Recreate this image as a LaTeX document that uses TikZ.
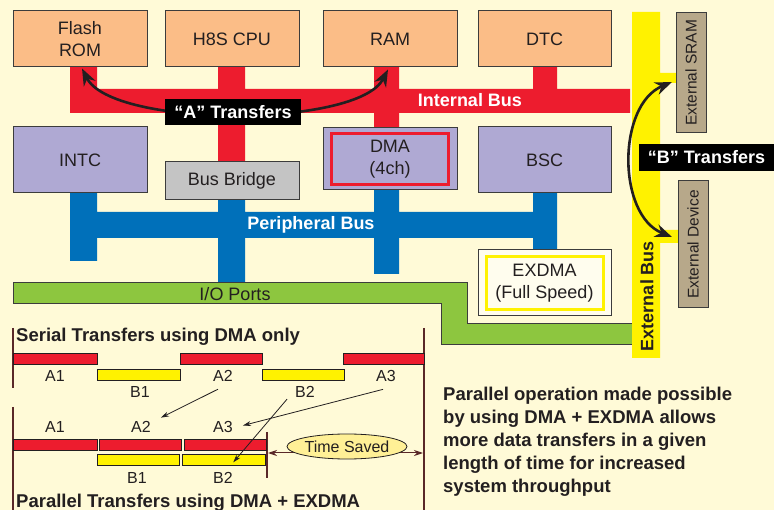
\documentclass[tikz,border=0pt]{standalone}
\usepackage{fontspec}
\setmainfont{Liberation Sans}
\usetikzlibrary{arrows.meta,shapes.geometric}
\definecolor{bgcream}{RGB}{255,250,215}
\definecolor{romorange}{RGB}{251,189,135}
\definecolor{busred}{RGB}{237,28,46}
\definecolor{periblue}{RGB}{0,112,186}
\definecolor{iogreen}{RGB}{141,198,63}
\definecolor{extyellow}{RGB}{255,242,0}
\definecolor{blocklilac}{RGB}{175,169,211}
\definecolor{bridgegray}{RGB}{196,196,196}
\definecolor{exttan}{RGB}{183,168,138}
\definecolor{inkdark}{RGB}{35,31,32}
\definecolor{edgegray}{RGB}{60,60,60}
\definecolor{lineburgundy}{RGB}{90,40,40}
\definecolor{savedyellow}{RGB}{255,240,150}
\definecolor{exdmafill}{RGB}{255,253,238}

\begin{document}
\begin{tikzpicture}[x=1pt,y=-1pt,
  font=\fontsize{18}{22}\selectfont,
  blk/.style={draw=edgegray, line width=1pt, align=center, text=inkdark, inner sep=0pt},
  tag/.style={fill=black, text=white, font=\fontsize{18}{22}\selectfont\bfseries, inner sep=0pt},
  busname/.style={text=white, font=\fontsize{18}{22}\selectfont\bfseries, inner sep=0pt},
  xdev/.style={blk, fill=exttan, rotate=90, minimum height=30pt, font=\fontsize{15.5}{18}\selectfont},
  abar/.style={draw=inkdark, line width=0.6pt, fill=busred, minimum height=11pt, inner sep=0pt, anchor=north west},
  bbar/.style={draw=inkdark, line width=0.6pt, fill=extyellow, minimum height=11pt, inner sep=0pt, anchor=north west},
  lbl/.style={text=inkdark, inner sep=1pt, anchor=base, font=\fontsize{16}{18}\selectfont},
  heading/.style={text=inkdark, inner sep=0pt, anchor=base west, font=\fontsize{18.5}{22}\selectfont\bfseries},
  bigarrow/.style={{Stealth[length=17pt,width=13pt]}-{Stealth[length=17pt,width=13pt]}, line width=2.6pt, inkdark},
  thinarrow/.style={-{Stealth[length=8pt,width=5pt]}, line width=0.8pt, inkdark},
  vline/.style={lineburgundy, line width=1.2pt},
]
\fill[bgcream] (0,0) rectangle (774,510);
\useasboundingbox (0,0) rectangle (774,510);

% buses
\fill[busred] (70,67) rectangle (97,113) (70,89) rectangle (630,113)
  (218,67) rectangle (245,162) (374,67) rectangle (399,128) (533,67) rectangle (557,89);
\fill[periblue] (70,193) rectangle (97,261) (70,212) rectangle (557,238)
  (218,200) rectangle (245,283) (374,190) rectangle (399,274) (533,193) rectangle (557,250);
\draw[fill=iogreen, draw=edgegray, line width=1pt] (13,283) -- (467,283) -- (467,324) -- (632,324)
  -- (632,345) -- (441,345) -- (441,304) -- (13,304) -- cycle;
\fill[extyellow] (632,12) rectangle (660,358) (659,73) rectangle (677,83) (659,230) rectangle (679,243);

\node[text=inkdark, inner sep=0pt] (io) at (235,294) {I/O Ports};
\node[busname] (ibus) at (470,100) {Internal Bus};
\node[busname] (pbus) at (311,225) {Peripheral Bus};
\node[text=inkdark, rotate=90, inner sep=0pt, font=\fontsize{18}{22}\selectfont\bfseries] (xbus) at (647,296) {External Bus};

% blocks
\node[blk, fill=romorange, minimum width=134pt, minimum height=56pt] (rom) at (80,39) {Flash\\ROM};
\node[blk, fill=romorange, minimum width=134pt, minimum height=56pt] (cpu) at (232,39) {H8S CPU};
\node[blk, fill=romorange, minimum width=134pt, minimum height=56pt] (ram) at (390,39) {RAM};
\node[blk, fill=romorange, minimum width=133pt, minimum height=56pt] (dtc) at (544.5,39) {DTC};
\node[blk, fill=blocklilac, minimum width=134pt, minimum height=66pt] (intc) at (80,160) {INTC};
\node[blk, fill=bridgegray, minimum width=134pt, minimum height=38pt] (bridge) at (232,181) {Bus Bridge};
\node[blk, fill=blocklilac, minimum width=134pt, minimum height=62pt] (dma) at (390,159) {};
\node[draw=busred, line width=3pt, minimum width=117pt, minimum height=51pt, align=center, text=inkdark, inner sep=0pt] (dmach) at (dma) {DMA\\(4ch)};
\node[blk, fill=blocklilac, minimum width=133pt, minimum height=66pt] (bsc) at (544.5,160) {BSC};
\node[blk, fill=exdmafill, minimum width=133pt, minimum height=66pt] (exdma) at (544.5,283) {};
\node[draw=extyellow, line width=3pt, minimum width=117pt, minimum height=53pt, align=center, text=inkdark, inner sep=0pt] (exdmafs) at (exdma) {EXDMA\\(Full Speed)};
\node[xdev, minimum width=120pt] (xsram) at (691,73) {External SRAM};
\node[xdev, minimum width=127pt] (xdevice) at (693,244.5) {External Device};

% transfers
\coordinate (sramtap) at (672,82);
\coordinate (devtap) at (672,237);
\draw[bigarrow] ([shift={(2,1)}]rom.south) .. controls (112,128) and (358,128) .. ([shift={(-2,2)}]ram.south);
\draw[bigarrow] (sramtap) .. controls (617,105) and (617,215) .. (devtap);
\node[tag, minimum width=136pt, minimum height=26pt] (atag) at (233,112) {“A” Transfers};
\node[tag, minimum width=135pt, minimum height=27pt] (btag) at (706.5,157.5) {“B” Transfers};

% timing
\draw[vline] (13,328) -- (13,388);
\draw[vline] (13,407) -- (13,510);
\draw[vline] (424,328) -- (424,510);
\draw[vline] (267,432) -- (267,478);
\node[heading] (sertitle) at (16,342) {Serial Transfers using DMA only};
\node[heading] (partitle) at (16,507) {Parallel Transfers using DMA + EXDMA};

\node[abar, minimum width=84pt] (sA1) at (13,353) {};
\node[bbar, minimum width=83pt] (sB1) at (97,369) {};
\node[abar, minimum width=82pt] (sA2) at (180,353) {};
\node[bbar, minimum width=82pt] (sB2) at (262,369) {};
\node[abar, minimum width=81pt] (sA3) at (343,353) {};
\node[abar, minimum width=84pt] (pA1) at (13,439) {};
\node[abar, minimum width=82pt] (pA2) at (99,439) {};
\node[abar, minimum width=82pt] (pA3) at (184,439) {};
\node[bbar, minimum width=82pt] (pB1) at (97,454) {};
\node[bbar, minimum width=83pt] (pB2) at (182,454) {};

\node[lbl] (sA1t) at (55,382) {A1};
\node[lbl] (sB1t) at (140,398) {B1};
\node[lbl] (sA2t) at (223,382) {A2};
\node[lbl] (sB2t) at (305,398) {B2};
\node[lbl] (sA3t) at (386,382) {A3};
\node[lbl] (pA1t) at (55,433) {A1};
\node[lbl] (pA2t) at (141,433) {A2};
\node[lbl] (pA3t) at (223,433) {A3};
\node[lbl] (pB1t) at (137,483) {B1};
\node[lbl] (pB2t) at (223,483) {B2};

\draw[thinarrow] ([shift={(-5,6)}]sA2t.south) -- ([shift={(9,-3)}]pA2t.north east);
\draw[thinarrow] ([shift={(-3,6)}]sA3t.south) -- ([shift={(9,-2)}]pA3t.east);
\draw[thinarrow] ([shift={(-7,0)}]sB2t.south west) -- ([shift={(9.5,2.5)}]pB2.center);

\coordinate (parend) at (268,453);
\coordinate (serend) at (423,453);
\draw[{Stealth[length=9pt,width=6pt]}-{Stealth[length=9pt,width=6pt]}, lineburgundy, line width=1pt] (parend) -- (serend);
\node[ellipse, draw=inkdark, line width=0.8pt, fill=savedyellow, minimum width=118pt, minimum height=25pt, inner sep=0pt, text=inkdark, font=\fontsize{16}{18}\selectfont] (saved) at (347,446.5) {Time Saved};

\node[anchor=north west, inner sep=0pt, align=left, text=inkdark, font=\fontsize{18.5}{23}\selectfont\bfseries] (note) at (443,387)
  {Parallel operation made possible\\by using DMA + EXDMA allows\\more data transfers in a given\\length of time for increased\\system throughput};
\end{tikzpicture}
\end{document}
